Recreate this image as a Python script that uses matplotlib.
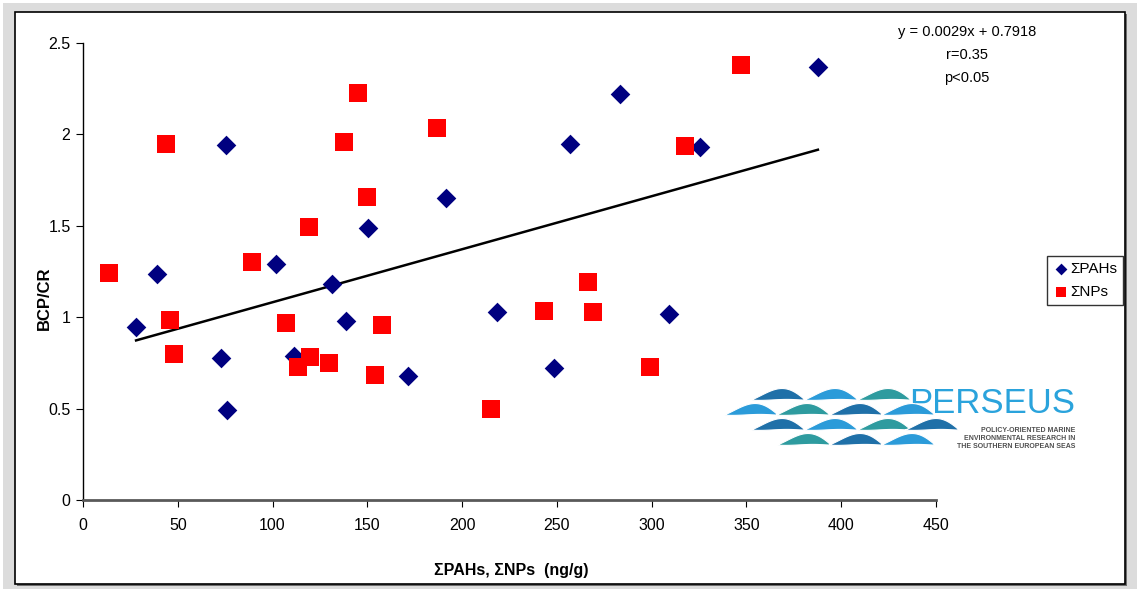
import numpy as np
import matplotlib
matplotlib.use("Agg")
import matplotlib.pyplot as plt
from matplotlib import font_manager
from matplotlib.patches import Rectangle, Polygon
from matplotlib.transforms import Affine2D

plt.rcParams['font.family'] = ['Liberation Sans', 'DejaVu Sans']

# sum of PAHs (ng/g) vs BCP/CR
pah_x = [28, 39, 75.4, 72.8, 76, 101.8, 111.3, 131.4, 138.7, 150.3,
         171.4, 191.5, 218.4, 248.5, 256.9, 283.3, 309.1, 325.5, 387.7]
pah_y = [0.946, 1.236, 1.94, 0.777, 0.49, 1.29, 0.79, 1.18, 0.98, 1.49,
         0.68, 1.65, 1.03, 0.72, 1.95, 2.22, 1.02, 1.93, 2.37]

# sum of NPs (ng/g) vs BCP/CR
np_x = [13.9, 43.6, 46.1, 48.2, 89.2, 107.3, 119.4, 119.9, 113.6, 129.9,
        137.7, 145.2, 149.7, 154, 157.9, 186.9, 215.2, 266.4, 243, 268.9,
        299.1, 317.4, 347.1]
np_y = [1.24, 1.95, 0.985, 0.80, 1.30, 0.968, 1.495, 0.78, 0.728, 0.75,
        1.957, 2.228, 1.656, 0.684, 0.956, 2.037, 0.50, 1.19, 1.034, 1.027,
        0.728, 1.935, 2.381]

slope, intercept = 0.0029, 0.7918
stats_lines = ["y = 0.0029x + 0.7918", "r=0.35", "p<0.05"]

W, H = 1140, 592
fig = plt.figure(figsize=(W / 100, H / 100), dpi=100)
fig.patch.set_facecolor('white')

# pixel coordinates, origin top-left
px = Affine2D().scale(1 / W, -1 / H).translate(0, 1) + fig.transFigure

fig.patches.append(Rectangle((3, 3), 1134, 586, transform=px, facecolor='#dcdcdc',
                             edgecolor='none', zorder=-10))
fig.patches.append(Rectangle((17, 14), 1110, 572, transform=px, facecolor='#6e6e6e',
                             edgecolor='none', zorder=-9))
fig.patches.append(Rectangle((15, 12), 1110, 572, transform=px, facecolor='white',
                             edgecolor='black', linewidth=1.2, zorder=-8))

ax = fig.add_axes([83 / W, 1 - 500 / H, 853 / W, 457 / H])
ax.set_facecolor('none')

ax.scatter(pah_x, pah_y, marker='D', s=100, color='#000080', label='ΣPAHs', zorder=3, linewidths=0)
ax.scatter(np_x, np_y, marker='s', s=150, color='#ff0000', label='ΣNPs', zorder=3, linewidths=0)

xl = np.array([min(pah_x), max(pah_x)])
ax.plot(xl, slope * xl + intercept, color='black', lw=1.8, zorder=2)

ax.set_xlim(0, 450)
ax.set_ylim(0, 2.5)
ax.set_xticks(np.arange(0, 451, 50))
ax.set_yticks([0, 0.5, 1, 1.5, 2, 2.5])
ax.set_yticklabels(['0', '0.5', '1', '1.5', '2', '2.5'])
ax.tick_params(axis='both', direction='out', length=5, labelsize=11.5, colors='black')
ax.tick_params(axis='x', pad=8)
ax.tick_params(axis='y', pad=4)
for s in ['top', 'right']:
    ax.spines[s].set_visible(False)
ax.spines['left'].set_color('black')
ax.spines['left'].set_linewidth(1)
ax.spines['bottom'].set_color('#595959')
ax.spines['bottom'].set_linewidth(2)

fig.text(44 / W, 1 - 298 / H, 'BCP/CR', rotation=90, ha='center', va='center',
         fontsize=12, fontweight='bold')
fig.text(511 / W, 1 - 571 / H, 'ΣPAHs, ΣNPs  (ng/g)', ha='center', va='center',
         fontsize=11.5, fontweight='bold')

for i, line in enumerate(stats_lines):
    fig.text(967 / W, 1 - (32 + 23 * i) / H, line, ha='center', va='center', fontsize=10.5)

leg = fig.legend(loc='upper left', bbox_to_anchor=(1047 / W, 1 - 256 / H), borderaxespad=0,
                 fontsize=11, frameon=True, fancybox=False, edgecolor='black',
                 handletextpad=0.1, handlelength=1.0, borderpad=0.4, labelspacing=0.6,
                 markerscale=0.6)
leg.get_frame().set_linewidth(1)

# PERSEUS logo: waves, lower rows first so upper rows sit on top
wave_cols = {'d': '#1f70a8', 'l': '#2b9bd9', 't': '#2e9b9f'}
rows = [
    (442, [(777, 't'), (829, 'd'), (881, 'l')]),
    (427, [(751, 'd'), (804, 'l'), (857, 't'), (905, 'd')]),
    (412, [(724, 'l'), (776, 't'), (829, 'd'), (881, 'l')]),
    (397, [(751, 'd'), (804, 'l'), (857, 't')]),
]
t = np.linspace(0, 1, 80)
for cy, items in rows:
    for x0, c in items:
        L = 54
        xs = x0 + L * t
        yc = cy + 3 - 6 * np.sin(np.pi * t ** 1.3)
        th = 11 * np.sin(np.pi * t ** 1.2) ** 0.9
        top = np.column_stack([xs, yc - th / 2])
        bot = np.column_stack([xs[::-1], (yc + th / 2)[::-1]])
        fig.patches.append(Polygon(np.vstack([top, bot]), closed=True, transform=px,
                                   facecolor=wave_cols[c], edgecolor='white', lw=0.8, zorder=5))

names = {f.name for f in font_manager.fontManager.ttflist}
if 'Liberation Sans Narrow' in names:
    fig.text(1075 / W, 1 - 413 / H, 'PERSEUS', ha='right', va='baseline', fontsize=30,
             family='Liberation Sans Narrow', color='#2aa3dc')
else:
    fig.text(1075 / W, 1 - 413 / H, 'PERSEUS', ha='right', va='baseline', fontsize=25,
             color='#2aa3dc')
sub = ["POLICY-ORIENTED MARINE", "ENVIRONMENTAL RESEARCH IN", "THE SOUTHERN EUROPEAN SEAS"]
for i, line in enumerate(sub):
    fig.text(1075 / W, 1 - (431 + 8 * i) / H, line, ha='right', va='center', fontsize=5,
             fontweight='bold', color='#505050')

fig.savefig('out.png', dpi=100, facecolor=fig.get_facecolor())
